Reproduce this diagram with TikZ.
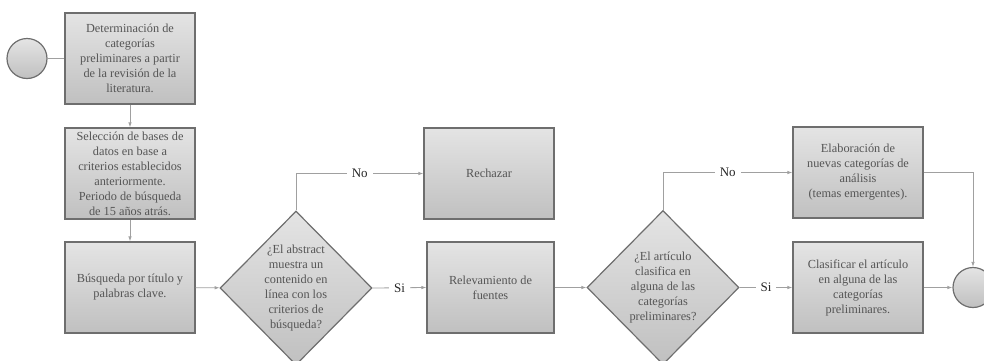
\documentclass[tikz,border=0pt]{standalone}
\usepackage{fontspec}
\setmainfont{Liberation Serif}
\usetikzlibrary{shapes.geometric,arrows.meta}

\definecolor{boxline}{RGB}{110,110,110}
\definecolor{boxtop}{RGB}{228,228,228}
\definecolor{boxbot}{RGB}{192,192,192}
\definecolor{boxtext}{RGB}{85,85,85}
\definecolor{flowline}{RGB}{160,160,160}

\begin{document}
\begin{tikzpicture}[x=1pt,y=-1pt,
    proc/.style={rectangle,draw=boxline,line width=1.2pt,top color=boxtop,bottom color=boxbot,
      minimum width=130pt,minimum height=91pt,inner sep=0pt,align=center,
      text=boxtext,font=\fontsize{12.3}{15}\selectfont},
    decision/.style={diamond,draw=boxline,line width=1.2pt,top color=boxtop,bottom color=boxbot,
      minimum width=152pt,minimum height=154pt,inner sep=0pt,align=center,
      text=boxtext,font=\fontsize{12.3}{15}\selectfont},
    terminal/.style={circle,draw=boxline,line width=1.2pt,top color=boxtop,bottom color=boxbot,
      minimum size=40pt,inner sep=0pt},
    flow/.style={draw=flowline,line width=0.8pt,-{Latex[length=5pt,width=3.5pt]}},
    answer/.style={fill=white,text=black!85,font=\fontsize{13}{14}\selectfont,inner sep=5pt}]
  \useasboundingbox (0,0) rectangle (984,360);

  % left column
  \node[terminal] (start) at (27,58.5) {};
  \node[proc] (determ) at (130,58.5) {Determinación de\\ categorías\\ preliminares a partir\\ de la revisión de la\\ literatura.};
  \node[proc] (seleccion) at (130,173.5) {Selección de bases de\\ datos en base a\\ criterios establecidos\\ anteriormente.\\ Periodo de búsqueda\\ de 15 años atrás.};
  \node[proc] (busqueda) at (130,287.5) {Búsqueda por título y\\ palabras clave.};

  % first decision
  \node[decision] (abstract) at (296,288) {¿El abstract\\ muestra un\\ contenido en\\ línea con los\\ criterios de\\ búsqueda?};
  \node[proc] (rechazar) at (489,173.5) {Rechazar};
  \node[proc,minimum width=127pt] (relev) at (490.5,287.5) {Relevamiento de\\ fuentes};

  % second decision
  \node[decision] (articulo) at (663,287.5) {¿El artículo\\ clasifica en\\ alguna de las\\ categorías\\ preliminares?};
  \node[proc] (elabora) at (858,172.5) {Elaboración de\\ nuevas categorías de\\ análisis\\ (temas emergentes).};
  \node[proc] (clasif) at (858,287.5) {Clasificar el artículo\\ en alguna de las\\ categorías\\ preliminares.};
  \node[terminal] (fin) at (973,287.5) {};

  \draw[flow,-] (start) -- (determ);
  \draw[flow] (determ) -- (seleccion);
  \draw[flow] (seleccion) -- (busqueda);
  \draw[flow] (busqueda) -- (abstract);
  \draw[flow] (abstract.north) |- node[answer,pos=0.75] {No} (rechazar.west);
  \draw[flow] (abstract.east) -- node[answer] {Si} (relev.west);
  \draw[flow] (relev) -- (articulo);
  \draw[flow] (articulo.north) |- node[answer,pos=0.75] {No} (elabora.west);
  \draw[flow] (articulo.east) -- node[answer] {Si} (clasif.west);
  \draw[flow] (clasif) -- (fin);
  \draw[flow] (elabora.east) -| (fin.north);
\end{tikzpicture}
\end{document}
